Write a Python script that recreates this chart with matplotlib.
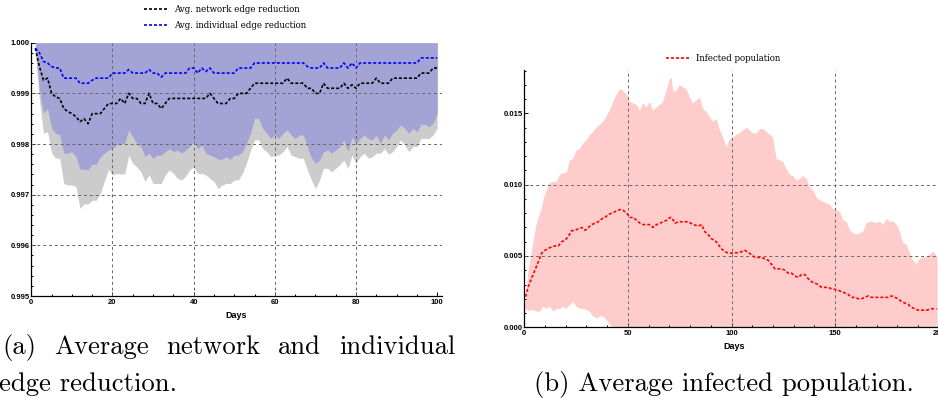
import numpy as np
import matplotlib
matplotlib.use("Agg")
import matplotlib.pyplot as plt
from matplotlib.ticker import MultipleLocator, FormatStrFormatter

# ---- panel (a): edge reduction, days 1..100 ----
days_a = np.arange(1, 101)

network_mean = [
    0.99989, 0.99953, 0.99926, 0.9993, 0.9990, 0.99893, 0.9989, 0.9987, 0.99864, 0.9986,
    0.99854, 0.99844, 0.9985, 0.9984, 0.9986, 0.9986, 0.9986, 0.9987, 0.9988, 0.9988,
    0.9988, 0.9989, 0.9988, 0.9990, 0.9989, 0.9989, 0.9988, 0.9988, 0.9990, 0.9988,
    0.9988, 0.9987, 0.9988, 0.9989, 0.9989, 0.9989, 0.9989, 0.9989, 0.9989, 0.9989,
    0.9989, 0.9989, 0.9989, 0.9990, 0.9989, 0.9988, 0.9988, 0.9988, 0.9989, 0.9989,
    0.9990, 0.9990, 0.9990, 0.9991, 0.9992, 0.9992, 0.9992, 0.9992, 0.9992, 0.9992,
    0.9992, 0.9992, 0.9993, 0.9992, 0.9992, 0.9992, 0.9992, 0.9991, 0.9991, 0.9990,
    0.9990, 0.9992, 0.9991, 0.9991, 0.9991, 0.9991, 0.9992, 0.9991, 0.99917, 0.9991,
    0.9992, 0.9992, 0.9992, 0.9992, 0.9993, 0.9992, 0.9992, 0.9992, 0.9993, 0.9993,
    0.9993, 0.9993, 0.9993, 0.9993, 0.9993, 0.9994, 0.9994, 0.9994, 0.9995, 0.9995,
]

individual_mean = [
    0.99989, 0.9998, 0.99963, 0.9996, 0.99953, 0.9995, 0.9995, 0.9993, 0.9993, 0.9993,
    0.9993, 0.9992, 0.9992, 0.9992, 0.99926, 0.9993, 0.9993, 0.9993, 0.9993, 0.9994,
    0.9994, 0.9994, 0.9994, 0.99947, 0.9994, 0.9994, 0.9994, 0.9994, 0.99947, 0.9994,
    0.9994, 0.99932, 0.9994, 0.9994, 0.9994, 0.9994, 0.9994, 0.9994, 0.9995, 0.9995,
    0.9994, 0.9995, 0.99943, 0.9995, 0.9994, 0.9994, 0.9994, 0.9994, 0.9994, 0.9994,
    0.9995, 0.9995, 0.9995, 0.9995, 0.9996, 0.9996, 0.9996, 0.9996, 0.9996, 0.9996,
    0.9996, 0.9996, 0.9996, 0.9996, 0.9996, 0.9996, 0.9996, 0.99953, 0.9995, 0.9995,
    0.9995, 0.9996, 0.9995, 0.9995, 0.9995, 0.9995, 0.9996, 0.9995, 0.9996, 0.9995,
    0.9996, 0.9996, 0.9996, 0.9996, 0.9996, 0.9996, 0.9996, 0.9996, 0.9996, 0.9996,
    0.9996, 0.9996, 0.9996, 0.9996, 0.9996, 0.9997, 0.9997, 0.9997, 0.9997, 0.9997,
]

# lower edge of the individual (blue) band
individual_low = [
    0.99986, 0.99907, 0.99861, 0.99870, 0.99831, 0.99821, 0.99818, 0.99782, 0.99782, 0.99785,
    0.99775, 0.99750, 0.99750, 0.99750, 0.99760, 0.99760, 0.99775, 0.99782, 0.99788, 0.99791,
    0.99798, 0.99801, 0.99801, 0.99828, 0.99814, 0.99801, 0.99795, 0.99775, 0.99782, 0.99772,
    0.99778, 0.99778, 0.99785, 0.99791, 0.99785, 0.99788, 0.99782, 0.99788, 0.99795, 0.99805,
    0.99791, 0.99798, 0.99782, 0.99778, 0.99775, 0.99770, 0.99770, 0.99775, 0.99770, 0.99778,
    0.99778, 0.99785, 0.99801, 0.99821, 0.99851, 0.99851, 0.99831, 0.99821, 0.99811, 0.99818,
    0.99811, 0.99821, 0.99828, 0.99818, 0.99811, 0.99818, 0.99818, 0.99795, 0.99772, 0.99762,
    0.99768, 0.99785, 0.99788, 0.99782, 0.99788, 0.99795, 0.99808, 0.99785, 0.99814, 0.99801,
    0.99811, 0.99818, 0.99811, 0.99808, 0.99818, 0.99801, 0.99818, 0.99808, 0.99821, 0.99828,
    0.99838, 0.99831, 0.99821, 0.99831, 0.99824, 0.99839, 0.99839, 0.99834, 0.99841, 0.99861,
]

# lower edge of the network (gray) band
network_low = [
    0.99979, 0.99887, 0.99821, 0.99824, 0.99782, 0.99772, 0.99772, 0.99722, 0.99719, 0.99719,
    0.99716, 0.99673, 0.99682, 0.99682, 0.99689, 0.99689, 0.99703, 0.99726, 0.99750, 0.99739,
    0.99742, 0.99741, 0.99741, 0.99778, 0.99762, 0.99755, 0.99745, 0.99726, 0.99739, 0.99722,
    0.99722, 0.99722, 0.99739, 0.99749, 0.99742, 0.99732, 0.99729, 0.99736, 0.99749, 0.99755,
    0.99742, 0.99742, 0.99739, 0.99732, 0.99726, 0.99712, 0.99719, 0.99722, 0.99722, 0.99729,
    0.99729, 0.99742, 0.99762, 0.99788, 0.99808, 0.99808, 0.99791, 0.99785, 0.99775, 0.99778,
    0.99778, 0.99785, 0.99795, 0.99778, 0.99775, 0.99772, 0.99772, 0.99749, 0.99729, 0.99712,
    0.99729, 0.99752, 0.99752, 0.99745, 0.99752, 0.99759, 0.99768, 0.99752, 0.99778, 0.99762,
    0.99775, 0.99782, 0.99772, 0.99775, 0.99782, 0.99782, 0.99791, 0.99780, 0.99785, 0.99795,
    0.99808, 0.99798, 0.99785, 0.99795, 0.99795, 0.99811, 0.99811, 0.99811, 0.99818, 0.99831,
]
band_top_a = 1.0

# ---- panel (b): infected population ----
inf_days = [
    0.6, 1.9, 3.5, 5.1, 6.8, 8.4, 10.0, 11.6, 13.2, 14.8,
    16.4, 18.0, 19.6, 21.2, 22.8, 24.4, 26.0, 27.7, 29.3, 30.9,
    32.5, 34.1, 35.7, 37.3, 38.9, 40.5, 42.1, 43.7, 46.1, 47.7,
    49.4, 51.0, 52.6, 54.2, 55.8, 57.4, 59.0, 60.6, 62.2, 63.8,
    65.4, 67.0, 68.6, 70.3, 71.1, 72.7, 74.3, 76.7, 79.1, 81.5,
    83.9, 85.5, 87.1, 88.7, 90.4, 92.0, 93.6, 95.2, 96.8, 98.4,
    100.0, 101.6, 103.2, 104.8, 106.4, 108.0, 109.6, 111.3, 112.9, 114.5,
    116.1, 117.7, 119.3, 120.9, 122.5, 124.1, 125.7, 127.3, 128.9, 130.5,
    132.2, 133.8, 135.4, 137.0, 138.6, 140.2, 141.8, 143.4, 145.0, 146.6,
    148.2, 149.8, 151.4, 153.1, 154.7, 156.3, 157.9, 159.5, 161.1, 162.7,
    164.3, 165.9, 167.5, 169.1, 170.7, 172.3, 174.0, 175.6, 177.2, 178.8,
    180.4, 182.0, 183.6, 185.2, 186.8, 188.4, 190.0, 191.6, 194.1, 196.5,
    198.9,
]
inf_mean = [
    0.00215, 0.00285, 0.00343, 0.0040, 0.0046, 0.0052, 0.0054, 0.00553, 0.00565, 0.0057,
    0.0057, 0.0060, 0.0061, 0.00635, 0.00677, 0.0068, 0.0069, 0.0070, 0.0068, 0.0070,
    0.0072, 0.0073, 0.0074, 0.0076, 0.0077, 0.0079, 0.0080, 0.0081, 0.00826, 0.0082,
    0.0080, 0.0077, 0.0077, 0.0075, 0.0073, 0.0072, 0.0072, 0.0072, 0.0070, 0.0072,
    0.0073, 0.0074, 0.0075, 0.0077, 0.0077, 0.0073, 0.0074, 0.0074, 0.0074, 0.0072,
    0.0071, 0.0072, 0.0067, 0.0065, 0.0062, 0.0061, 0.0058, 0.0055, 0.0053, 0.0052,
    0.0052, 0.00523, 0.00523, 0.0053, 0.0054, 0.00525, 0.0051, 0.0049, 0.0049, 0.0049,
    0.0048, 0.0047, 0.0044, 0.0041, 0.0041, 0.0041, 0.0040, 0.0038, 0.0038, 0.0036,
    0.0035, 0.0037, 0.0037, 0.0034, 0.0032, 0.0031, 0.0030, 0.0028, 0.0028, 0.0028,
    0.0027, 0.00266, 0.0026, 0.0025, 0.0024, 0.0023, 0.0021, 0.0021, 0.0020, 0.0020,
    0.0021, 0.0022, 0.0021, 0.0021, 0.0021, 0.0021, 0.0021, 0.0021, 0.0022, 0.0021,
    0.0020, 0.0018, 0.0017, 0.0016, 0.0014, 0.0013, 0.0012, 0.0012, 0.0012, 0.0013,
    0.0013,
]

band_up_days = [
    0.6, 1.9, 3.5, 5.1, 5.9, 7.6, 8.4, 9.2, 10.8, 12.4,
    14.0, 15.6, 17.2, 18.8, 20.4, 22.0, 23.6, 25.2, 26.8, 28.5,
    30.1, 31.7, 33.3, 34.9, 36.5, 38.1, 39.7, 41.3, 42.9, 44.5,
    46.1, 47.7, 49.4, 51.0, 52.6, 54.2, 55.8, 57.4, 59.0, 60.6,
    62.2, 63.8, 65.4, 67.0, 68.6, 70.3, 71.1, 71.9, 73.5, 75.1,
    76.7, 78.3, 79.9, 81.5, 83.1, 84.7, 86.3, 87.9, 89.5, 91.2,
    92.8, 94.4, 96.0, 97.6, 99.2, 100.8, 102.4, 104.0, 105.6, 107.2,
    108.8, 110.5, 112.1, 113.7, 115.3, 116.9, 118.5, 120.1, 121.7, 123.3,
    124.9, 126.5, 128.1, 129.7, 131.4, 133.0, 134.6, 136.2, 137.8, 139.4,
    141.0, 142.6, 144.2, 145.8, 147.4, 149.0, 150.6, 152.3, 153.9, 155.5,
    157.1, 158.7, 160.3, 161.9, 163.5, 165.1, 166.7, 168.3, 169.9, 171.5,
    173.2, 174.8, 176.4, 178.0, 179.6, 181.2, 182.8, 184.4, 186.0, 187.6,
    189.2, 190.8, 192.4, 194.1, 195.7, 197.3, 199.4,
]
band_up = [
    0.0017, 0.0038, 0.0052, 0.0066, 0.0072, 0.0080, 0.0083, 0.0089, 0.0096, 0.0101,
    0.0102, 0.0102, 0.0107, 0.0108, 0.0108, 0.0117, 0.0118, 0.0124, 0.0125, 0.0129,
    0.0131, 0.0135, 0.0137, 0.0140, 0.0142, 0.0144, 0.0148, 0.0152, 0.0158, 0.0163,
    0.0167, 0.0166, 0.0163, 0.0158, 0.0157, 0.0156, 0.0152, 0.0157, 0.0154, 0.0158,
    0.0152, 0.0154, 0.0156, 0.0158, 0.0166, 0.0174, 0.0175, 0.0165, 0.0166, 0.0170,
    0.0168, 0.0167, 0.0161, 0.0157, 0.0159, 0.0161, 0.0153, 0.0151, 0.0147, 0.0144,
    0.0146, 0.0138, 0.0133, 0.0126, 0.0132, 0.0133, 0.0135, 0.0136, 0.0138, 0.0140,
    0.0138, 0.0136, 0.0136, 0.0139, 0.0139, 0.0137, 0.0135, 0.0133, 0.0118, 0.0117,
    0.0116, 0.0111, 0.0107, 0.0106, 0.0103, 0.0104, 0.0106, 0.0104, 0.0098, 0.0096,
    0.0091, 0.0089, 0.0088, 0.0087, 0.0086, 0.0083, 0.0082, 0.0081, 0.0075, 0.0074,
    0.0068, 0.0066, 0.0065, 0.0066, 0.0067, 0.0073, 0.0074, 0.0074, 0.0073, 0.0074,
    0.0072, 0.0076, 0.0074, 0.0074, 0.0072, 0.0067, 0.0059, 0.0058, 0.0052, 0.0047,
    0.0044, 0.0048, 0.0049, 0.0049, 0.0051, 0.0053, 0.0049,
]

band_low_days = [
    0.3, 1.1, 2.7, 4.3, 5.9, 7.6, 9.2, 10.8, 12.4, 14.0,
    15.6, 17.2, 18.8, 20.4, 22.0, 23.6, 25.2, 26.8, 28.5, 30.1,
    31.7, 33.3, 34.9, 36.5, 38.1, 39.7, 41.3, 42.9, 199.4,
]
band_low = [
    0.00145, 0.0012, 0.00117, 0.0012, 0.0011, 0.0011, 0.00145, 0.0013, 0.00145, 0.0011,
    0.0013, 0.00126, 0.00145, 0.0013, 0.00156, 0.0018, 0.00145, 0.0013, 0.0013, 0.0012,
    0.0011, 0.00075, 0.00063, 0.00075, 0.00075, 0.0005, 0.00016, 0.0, 0.0,
]

a_xticks = [0, 20, 40, 60, 80, 100]
a_yticks = [0.995, 0.996, 0.997, 0.998, 0.999, 1.000]
b_xticks = [0, 50, 100, 150, 200]
b_yticks = [0.000, 0.005, 0.010, 0.015]

W, H = 938, 398
fig = plt.figure(figsize=(W / 100, H / 100), dpi=100)

tick_font = dict(family="Liberation Sans", weight="bold", size=5.5)
leg_font = dict(family="DejaVu Serif", size=6.2)
grid_kw = dict(color="0.4", lw=0.7, ls=(0, (3, 3)), zorder=2)
dash = (0, (1.8, 1.2))


def style_axes(ax, xticks, yticks, xminor, yminor):
    ax.spines["top"].set_visible(False)
    ax.spines["right"].set_visible(False)
    for s in ("left", "bottom"):
        ax.spines[s].set_linewidth(0.9)
        ax.spines[s].set_zorder(5)
    ax.set_xticks(xticks)
    ax.set_yticks(yticks)
    ax.xaxis.set_minor_locator(MultipleLocator(xminor))
    ax.yaxis.set_minor_locator(MultipleLocator(yminor))
    ax.tick_params(which="both", direction="in", width=0.7)
    ax.tick_params(which="major", length=3)
    ax.tick_params(which="minor", length=1.6)
    ax.tick_params(axis="y", pad=1.2)
    ax.tick_params(axis="x", pad=2)
    ax.yaxis.set_major_formatter(FormatStrFormatter("%.3f"))
    for lab in ax.get_xticklabels() + ax.get_yticklabels():
        lab.set_fontproperties(matplotlib.font_manager.FontProperties(**tick_font))
    # grid only at the inner ticks
    for x in xticks[1:-1]:
        ax.axvline(x, **grid_kw)
    for y in yticks[1:-1]:
        ax.axhline(y, **grid_kw)
    ax.set_xlabel("Days", family="Liberation Sans", weight="bold", size=6.5, labelpad=3.5)


# panel (a)
ax1 = fig.add_axes([31.3 / W, 1 - 296 / H, 410.4 / W, 253.3 / H])
ax1.fill_between(days_a, network_low, band_top_a, color="#cccccc", lw=0, zorder=1)
ax1.fill_between(days_a, individual_low, band_top_a, color="#a3a3d6", lw=0, zorder=1.5)
ax1.plot(days_a, network_mean, color="black", lw=1.2, ls=dash, zorder=3,
         label="Avg. network edge reduction")
ax1.plot(days_a, individual_mean, color="blue", lw=1.2, ls=dash, zorder=3,
         label="Avg. individual edge reduction")
ax1.set_xlim(0, 101.1)
ax1.set_ylim(0.995, 1.0)
style_axes(ax1, a_xticks, a_yticks, 5, 0.0002)
ax1.legend(loc="upper left", bbox_to_anchor=(144 / W, 1 - 5 / H),
           bbox_transform=fig.transFigure, frameon=False, prop=leg_font,
           borderpad=0, borderaxespad=0, handlelength=2.8, handletextpad=0.7,
           labelspacing=0.8)

# panel (b)
ax2 = fig.add_axes([524.3 / W, 1 - 327.3 / H, 418.7 / W, 257.3 / H])
ax2.fill(np.concatenate([band_up_days, band_low_days[::-1]]),
         np.concatenate([band_up, band_low[::-1]]),
         color="#ffcccc", lw=0, zorder=1)
ax2.plot(inf_days, inf_mean, color="red", lw=1.2, ls=dash, zorder=3,
         label="Infected population")
ax2.set_xlim(0, 202)
ax2.set_ylim(0, 0.01804)
style_axes(ax2, b_xticks, b_yticks, 10, 0.001)
ax2.legend(loc="upper left", bbox_to_anchor=(666 / W, 1 - 54 / H),
           bbox_transform=fig.transFigure, frameon=False, prop=leg_font,
           borderpad=0, borderaxespad=0, handlelength=2.8, handletextpad=0.7)

# captions; the first line of (a) is fully justified between x0 and x1
cap = dict(family="cmr10", size=19.2, va="baseline")
words_a1 = ["(a)", "Average", "network", "and", "individual"]
x0, x1 = 2, 455
renderer = fig.canvas.get_renderer()
texts = [fig.text(0, 1 - 354 / H, w, ha="left", **cap) for w in words_a1]
widths = [t.get_window_extent(renderer).width for t in texts]
gap = (x1 - x0 - sum(widths)) / (len(words_a1) - 1)
xpos = x0
for t, w in zip(texts, widths):
    t.set_x(xpos / W)
    xpos += w + gap
fig.text(-1 / W, 1 - 391 / H, "edge reduction.", ha="left", **cap)
fig.text(723.5 / W, 1 - 391.5 / H, "(b) Average infected population.", ha="center", **cap)

fig.savefig("out.png", dpi=100)
